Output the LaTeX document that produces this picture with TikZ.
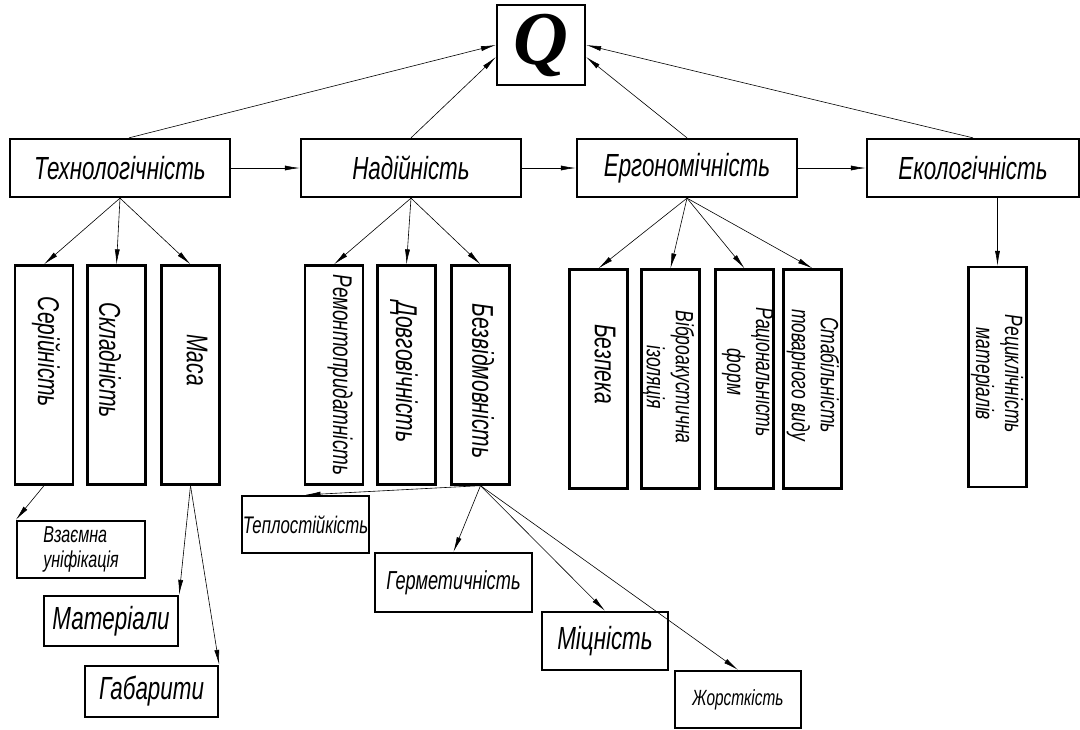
\documentclass[tikz,border=0pt]{standalone}
\usepackage{fontspec}
\setmainfont[FakeStretch=0.7]{Liberation Sans}
\newfontfamily\qfont{Liberation Serif}
\usetikzlibrary{arrows.meta}

\begin{document}
\begin{tikzpicture}[x = 1pt, y = -1pt,
        box/.style = {draw, line width = 2.3pt, inner sep = 0pt},
        hbox/.style = {box, minimum width = 220pt, minimum height = 58pt, font = \fontsize{32}{34}\selectfont\itshape},
        vbox/.style = {box, minimum width = 58pt, minimum height = 219pt},
        vtext/.style = {rotate = -90, inner sep = 0pt, align = center, font = \fontsize{30}{32}\selectfont\itshape},
        vtwo/.style = {vtext, font = \fontsize{25}{29}\selectfont\itshape},
        bbox/.style = {box, align = left},
        arr/.style = {-{Latex[length = 15pt, width = 5pt]}, line width = 0.6pt}]
        \useasboundingbox (0, 0) rectangle (1080, 729);

        % top level
        \node[box, minimum width = 88pt, minimum height = 80pt] (q) at (541, 45) {\qfont\bfseries\itshape\fontsize{76}{76}\selectfont Q};
        \node[hbox] (tech) at (120, 168) {Технологічність};
        \node[hbox] (nad) at (411, 168) {Надійність};
        \node[hbox] (erg) at (687, 168) {Ергономічність};
        \node[hbox, minimum width = 212pt] (eco) at (973, 168) {Екологічність};

        \draw[arr] ([xshift = 9pt]tech.north) -- (q.west);
        \draw[arr] (nad.north) -- ([yshift = -12pt]q.west);
        \draw[arr] (erg.north) -- ([yshift = -12pt]q.east);
        \draw[arr] (eco.north) -- (q.east);
        \draw[arr] (tech) -- (nad);
        \draw[arr] (nad) -- (erg);
        \draw[arr] (erg) -- (eco);

        % second level
        \node[vbox] (ser) at (44, 375) {};
        \node[vbox] (skl) at (116.5, 375) {};
        \node[vbox] (mas) at (190.5, 375) {};
        \node[vbox] (rem) at (334, 375) {};
        \node[vbox] (dov) at (406.5, 375) {};
        \node[vbox] (bez) at (480.5, 375) {};
        \node[vbox] (bzp) at (598.5, 379) {};
        \node[vbox] (vib) at (670.5, 379) {};
        \node[vbox] (rac) at (744.5, 379) {};
        \node[vbox] (sta) at (812.5, 379) {};
        \node[vbox, minimum height = 220pt] (rec) at (997.5, 377) {};

        \node[vtext] (ser-t) at (46, 352) {Серійність};
        \node[vtext] (skl-t) at (110, 360) {Складність};
        \node[vtext] (mas-t) at (197, 360) {Маса};
        \node[vtext, font = \fontsize{27}{29}\selectfont\itshape] (rem-t) at (340, 375) {Ремонтопридатність};
        \node[vtext] (dov-t) at (404, 372) {Довговічність};
        \node[vtext] (bez-t) at (483, 381) {Безвідмовність};
        \node[vtext] (bzp-t) at (605, 364) {Безпека};
        \node[vtwo] (vib-t) at (668, 377) {Віброакустична\\ізоляція};
        \node[vtwo] (rac-t) at (748, 372) {Раціональність\\форм};
        \node[vtwo] (sta-t) at (813, 375) {Стабільність\\товарного виду};
        \node[vtwo] (rec-t) at (997, 374) {Рециклічність\\матеріалів};

        \foreach \kid in {ser, skl, mas}
                \draw[arr] (tech.south) -- (\kid.north);
        \foreach \kid in {rem, dov, bez}
                \draw[arr] (nad.south) -- (\kid.north);
        \foreach \kid in {bzp, vib, rac, sta}
                \draw[arr] (erg.south) -- (\kid.north);
        \draw[arr] (eco.south -| rec.north) -- (rec.north);

        % third level
        \node[bbox, minimum width = 128pt, minimum height = 57pt, font = \fontsize{23}{25}\selectfont\itshape] (vz) at (81, 549.5) {Взаємна\\уніфікація};
        \node[bbox, minimum width = 134pt, minimum height = 50pt, font = \fontsize{32}{34}\selectfont\itshape] (mat) at (111, 621) {Матеріали};
        \node[bbox, minimum width = 133pt, minimum height = 51pt, font = \fontsize{32}{34}\selectfont\itshape] (gab) at (151.5, 691.5) {Габарити};
        \node[bbox, minimum width = 127pt, minimum height = 57pt, font = \fontsize{24}{26}\selectfont\itshape] (tep) at (305.5, 524.5) {Теплостійкість};
        \node[bbox, minimum width = 157pt, minimum height = 59pt, font = \fontsize{26}{28}\selectfont\itshape] (her) at (453.5, 582.5) {Герметичність};
        \node[bbox, minimum width = 126pt, minimum height = 58pt, font = \fontsize{32}{34}\selectfont\itshape] (mic) at (605, 641) {Міцність};
        \node[bbox, minimum width = 126pt, minimum height = 57pt, font = \fontsize{22}{24}\selectfont\itshape] (zhr) at (738, 699.5) {Жорсткість};

        \draw[arr] (ser.south) -- (vz.north west);
        \draw[arr] (mas.south) -- (mat.north east);
        \draw[arr] (mas.south) -- (gab.north east);
        \foreach \kid in {tep, her, mic, zhr}
                \draw[arr] (bez.south) -- (\kid.north);
    \end{tikzpicture}
\end{document}
